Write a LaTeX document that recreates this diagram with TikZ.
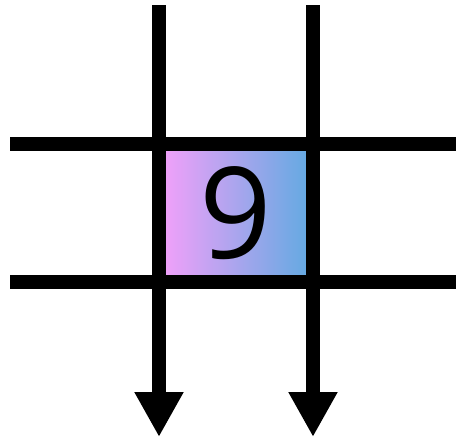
\documentclass[tikz,border=0pt]{standalone}
\usepackage{fontspec}
\setmainfont{Open Sans}
\usetikzlibrary{arrows.meta}
\definecolor{cellpink}{RGB}{245,160,250}
\definecolor{cellblue}{RGB}{95,170,225}
\def \lw{13.5pt}

\begin{document}
\begin{tikzpicture}[x=1pt, y=-1pt,
    gridline/.style={line width=\lw, black},
    downarrow/.style={gridline, -{Triangle[length=45pt, width=46pt]}},
    cell/.style={shape=rectangle, minimum width=154pt, minimum height=138pt,
      inner sep=0pt, left color=cellpink, right color=cellblue,
      font=\fontsize{127}{127}\selectfont}]
    \useasboundingbox (0, 0) rectangle (456, 439);
    \node[cell] (C) at (236, 213) {9};
    \coordinate (T1) at (159, 5);
    \coordinate (T2) at (313, 5);
    \coordinate (B1) at (159, 437);
    \coordinate (B2) at (313, 437);
    \coordinate (L1) at (10, 144);
    \coordinate (R1) at (456, 144);
    \coordinate (L2) at (10, 282);
    \coordinate (R2) at (456, 282);
    \draw[gridline] (L1) -- (R1);
    \draw[gridline] (L2) -- (R2);
    \draw[downarrow] (T1) -- (B1);
    \draw[downarrow] (T2) -- (B2);
  \end{tikzpicture}
\end{document}
